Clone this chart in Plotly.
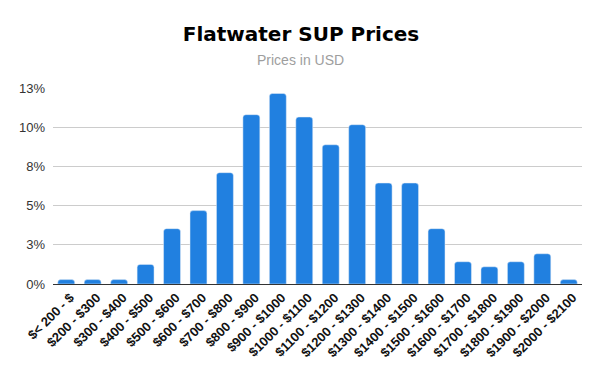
import plotly.graph_objects as go

categories = ["$< 200 - $", "$200 - $300", "$300 - $400", "$400 - $500", "$500 - $600",
              "$600 - $700", "$700 - $800", "$800 - $900", "$900 - $1000", "$1000 - $1100",
              "$1100 - $1200", "$1200 - $1300", "$1300 - $1400", "$1400 - $1500", "$1500 - $1600",
              "$1600 - $1700", "$1700 - $1800", "$1800 - $1900", "$1900 - $2000", "$2000 - $2100"]
share = [0.0028, 0.0028, 0.0028, 0.0125, 0.0353, 0.0468, 0.0710, 0.1080, 0.1215, 0.1065,
         0.0888, 0.1016, 0.0644, 0.0644, 0.0353, 0.0142, 0.0110, 0.0142, 0.0193, 0.0028]
y_ticks = [0, 0.025, 0.05, 0.075, 0.10, 0.125]
y_labels = ["0%", "3%", "5%", "8%", "10%", "13%"]

# the page places the figure at an 8px offset, so margins are compensated
W, H = 600, 371
L, T, R, B = 45, 80, 26, 95
plot_w = W - L - R
plot_h = H - T - B

fig = go.Figure(go.Bar(
    x=categories, y=share,
    marker=dict(color="#2180e0", cornerradius=3),
))

fig.update_layout(
    width=W, height=H,
    paper_bgcolor="white", plot_bgcolor="white",
    margin=dict(l=L, r=R, t=T, b=B),
    bargap=0.36,
    showlegend=False,
    title=dict(text="<b>Flatwater SUP Prices</b>", x=(301 - 8) / W, xanchor="center",
               y=1 - (34 - 8) / H, yanchor="middle",
               font=dict(family="DejaVu Sans", size=20, color="#000000")),
    annotations=[dict(text="Prices in USD", xref="paper", yref="paper",
                      x=(300 - 8 - L) / plot_w, y=1 + (T - (60 - 8)) / plot_h,
                      showarrow=False, xanchor="center", yanchor="middle",
                      font=dict(family="Liberation Sans", size=14, color="#9e9e9e"))],
    font=dict(family="Liberation Sans"),
)
fig.update_xaxes(
    tickangle=-45, showgrid=False, showline=True, linecolor="#333333", linewidth=1,
    tickfont=dict(family="Liberation Sans", size=13, color="#111111", weight="bold"),
    ticks="", automargin=False, ticklabelshift=4,
)
fig.update_yaxes(
    range=[0, 0.125], tickvals=y_ticks, ticktext=y_labels,
    gridcolor="#cccccc", gridwidth=1, zeroline=False,
    tickfont=dict(family="Liberation Sans", size=13, color="#333333"),
    ticks="", ticklabelstandoff=7, automargin=False,
)
fig.write_html("out.html")
